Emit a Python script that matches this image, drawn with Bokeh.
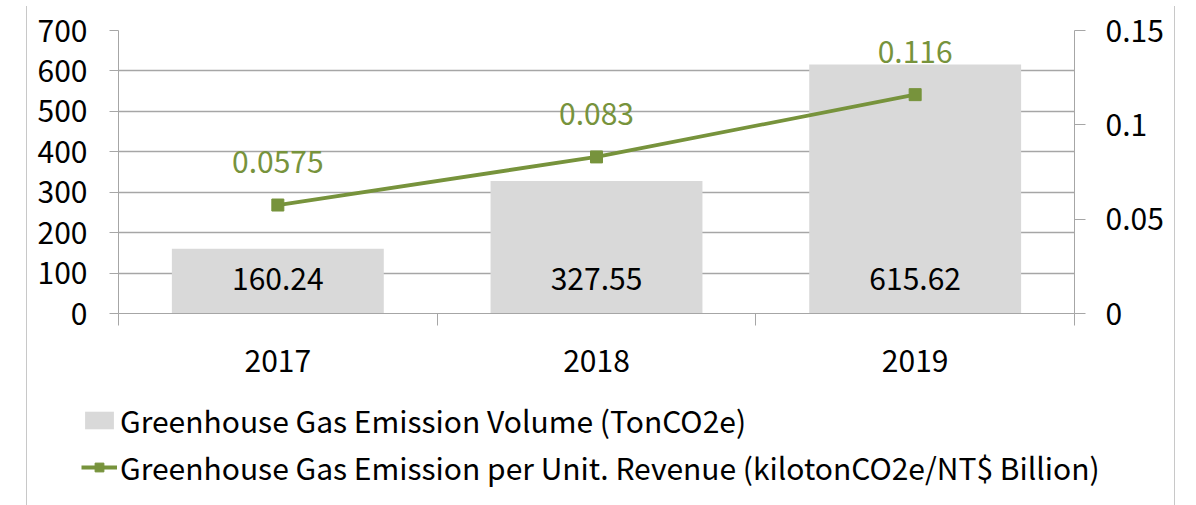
import numpy as np
from bokeh.plotting import figure
from bokeh.layouts import column
from bokeh.models import (Range1d, LinearAxis, FixedTicker, Legend, LegendItem,
                          ColumnDataSource, LabelSet)
from bokeh.core.properties import value
from bokeh.embed import file_html
from bokeh.resources import INLINE

# ---- data ----
years = ["2017", "2018", "2019"]
volume = [160.24, 327.55, 615.62]
intensity = [0.0575, 0.083, 0.116]
left_ticks = [0, 100, 200, 300, 400, 500, 600, 700]
right_ticks = [0, 0.05, 0.1, 0.15]
right_tick_labels = ["0", "0.05", "0.1", "0.15"]
bar_label = "Greenhouse Gas Emission Volume (TonCO2e)"
line_label = "Greenhouse Gas Emission per Unit. Revenue (kilotonCO2e/NT$ Billion)"

FONT = "Noto Sans CJK TC"
FS = "30px"
GRID = "#a6a6a6"
GREEN = "#77933c"
BAR = "#d9d9d9"
W = 1147

xpos = [i + 0.5 for i in range(len(years))]
src = ColumnDataSource(dict(
    x=xpos, vol=volume, inten=intensity,
    vol_text=[f"{v:.2f}" for v in volume],
    int_text=[str(v) for v in intensity],
))

p = figure(width=W, height=388, x_range=Range1d(0, len(years)),
           y_range=Range1d(0, 700), output_backend="svg", toolbar_location=None,
           min_border_left=91, min_border_right=100, min_border_top=24,
           min_border_bottom=81)
p.outline_line_color = None
p.extra_y_ranges = {"r": Range1d(0, 0.15)}

# x axis
xa = p.xaxis[0]
xa.ticker = FixedTicker(ticks=xpos, minor_ticks=list(range(len(years) + 1)))
xa.major_label_overrides = {xv: y for xv, y in zip(xpos, years)}
xa.axis_line_color = GRID
xa.major_tick_out = 0
xa.major_tick_in = 0
xa.minor_tick_out = 12
xa.minor_tick_in = 0
xa.minor_tick_line_color = GRID
xa.major_label_standoff = 24
xa.major_label_text_font = FONT
xa.major_label_text_font_size = FS
xa.major_label_text_color = "black"

# left y axis
ya = p.yaxis[0]
ya.ticker = FixedTicker(ticks=left_ticks)
ya.axis_line_color = GRID
ya.major_tick_line_color = GRID
ya.major_tick_out = 9
ya.major_tick_in = 0
ya.minor_tick_line_color = None
ya.major_label_standoff = 22
ya.major_label_text_font = FONT
ya.major_label_text_font_size = FS
ya.major_label_text_color = "black"

# right y axis
ra = LinearAxis(y_range_name="r", ticker=FixedTicker(ticks=right_ticks))
ra.major_label_overrides = dict(zip(right_ticks, right_tick_labels))
ra.axis_line_color = GRID
ra.major_tick_line_color = GRID
ra.major_tick_out = 11
ra.major_tick_in = 0
ra.minor_tick_line_color = None
ra.major_label_standoff = 20
ra.major_label_text_font = FONT
ra.major_label_text_font_size = FS
ra.major_label_text_color = "black"
p.add_layout(ra, "right")

p.xgrid.grid_line_color = None
p.ygrid.ticker = FixedTicker(ticks=left_ticks)
p.ygrid.grid_line_color = GRID
p.ygrid.grid_line_width = 1.5

bars = p.vbar(x="x", top="vol", width=0.665, source=src, fill_color=BAR, line_color=None)
ln = p.line(x="x", y="inten", source=src, y_range_name="r", line_color=GREEN, line_width=3.8)
sc = p.scatter(x="x", y="inten", source=src, y_range_name="r", marker="square",
               size=12, fill_color=GREEN, line_color=GREEN)

p.add_layout(LabelSet(x="x", y=0, text="vol_text", source=src, y_offset=35,
                      text_align="center", text_baseline="middle",
                      text_font=value(FONT), text_font_size=value(FS), text_color="black"))
p.add_layout(LabelSet(x="x", y="inten", text="int_text", source=src, y_range_name="r",
                      y_offset=43, text_align="center", text_baseline="middle",
                      text_font=value(FONT), text_font_size=value(FS), text_color=GREEN))

# ---- legend panel (separate figure below the chart) ----
LH = 111
pl = figure(width=W, height=LH, x_range=Range1d(0, W), y_range=Range1d(0, LH),
            output_backend="svg", toolbar_location=None,
            x_axis_location=None, y_axis_location=None,
            min_border=0)
pl.frame_align = False
pl.outline_line_color = None
pl.xgrid.visible = False
pl.ygrid.visible = False
nan1 = np.array([np.nan])
lb = pl.vbar(x=nan1, top=nan1, width=1, fill_color=BAR, line_color=None)
ll = pl.line(x=nan1, y=nan1, line_color=GREEN, line_width=3.8)
ls = pl.scatter(x=nan1, y=nan1, marker="square", size=12, fill_color=GREEN, line_color=GREEN)

legend = Legend(items=[LegendItem(label=bar_label, renderers=[lb]),
                       LegendItem(label=line_label, renderers=[ll, ls])],
                location=(54, 16), orientation="vertical",
                label_text_font=FONT, label_text_font_size=FS, label_text_color="black",
                border_line_color=None, background_fill_alpha=0,
                padding=0, margin=0, spacing=3, glyph_width=36, glyph_height=22,
                label_height=44, label_standoff=3)
pl.add_layout(legend)

layout = column(p, pl, spacing=0)
layout.margin = (6, 0, 0, 26)
layout.styles = {"border-left": "1px solid #c8c8c8", "border-right": "1px solid #c8c8c8"}

open("out.html", "w").write(file_html(layout, INLINE))
